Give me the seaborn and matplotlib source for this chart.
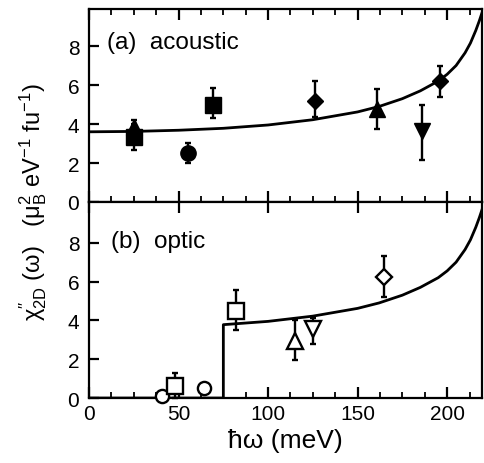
import pandas as pd
import matplotlib
matplotlib.use("Agg")
from matplotlib import pyplot as plt
from matplotlib.ticker import MultipleLocator
import seaborn as sns

# theory curve (same shape in both panels)
curve_x = [0, 25, 50, 75, 100, 125, 150, 162, 175, 185, 195, 200, 205, 210, 213, 216, 218, 220]
curve_y = [3.6, 3.62, 3.68, 3.78, 3.95, 4.22, 4.62, 4.9, 5.3, 5.7, 6.2, 6.55, 7.0, 7.65, 8.15, 8.8, 9.3, 9.85]

# optic curve: zero below the gap, then the same curve
optic_x = [0, 75, 75, 100, 125, 150, 162, 175, 185, 195, 200, 205, 210, 213, 216, 218, 220]
optic_y = [0, 0, 3.78, 3.95, 4.22, 4.62, 4.9, 5.3, 5.7, 6.2, 6.55, 7.0, 7.65, 8.15, 8.8, 9.3, 9.85]

# (a) acoustic, filled symbols
ac_x = [25, 25, 55, 69, 126, 161, 186, 196]
ac_y = [3.35, 3.85, 2.5, 5.0, 5.2, 4.75, 3.65, 6.2]
ac_lo = [2.65, 3.85, 2.0, 4.3, 4.35, 3.75, 2.15, 5.4]
ac_hi = [4.0, 4.2, 3.05, 5.85, 6.2, 5.8, 5.0, 7.0]
ac_mk = ["s", "^", "o", "s", "D", "^", "v", "D"]

# (b) optic, open symbols
op_x = [41, 48, 64, 82, 115, 125, 165]
op_y = [0.08, 0.6, 0.5, 4.5, 2.95, 3.55, 6.25]
op_lo = [0.08, 0.0, 0.5, 3.5, 1.98, 2.76, 5.22]
op_hi = [0.08, 1.3, 0.5, 5.55, 4.0, 4.1, 7.3]
op_mk = ["o", "s", "o", "s", "^", "v", "D"]

sizes = {"s": 11, "o": 11, "^": 11, "v": 11, "D": 8.5}
open_sizes = {"s": 12, "o": 9.5, "^": 12, "v": 11, "D": 8.5}

sns.set_style("ticks")
plt.rcParams["font.family"] = ["Liberation Sans", "DejaVu Sans"]
plt.rcParams["mathtext.fontset"] = "custom"
plt.rcParams["mathtext.rm"] = "Liberation Sans"
plt.rcParams["mathtext.it"] = "Liberation Sans:italic"
for key in ["axes.edgecolor", "text.color", "xtick.color", "ytick.color",
            "axes.labelcolor"]:
    plt.rcParams[key] = "black"

fig = plt.figure(figsize=(4.84, 4.64), dpi=100)
ax_a = fig.add_axes([0.184, 0.5625, 0.812, 0.416])
ax_b = fig.add_axes([0.184, 0.140, 0.812, 0.4225])

df_a = pd.DataFrame({"x": curve_x, "y": curve_y})
df_b = pd.DataFrame({"x": optic_x, "y": optic_y})
sns.lineplot(data=df_a, x="x", y="y", ax=ax_a, color="black", lw=2.0,
             sort=False, estimator=None)
sns.lineplot(data=df_b, x="x", y="y", ax=ax_b, color="black", lw=2.0,
             sort=False, estimator=None)

for x, y, lo, hi, m in zip(ac_x, ac_y, ac_lo, ac_hi, ac_mk):
    ax_a.errorbar([x], [y], yerr=[[y - lo], [hi - y]], fmt=m, color="black",
                  ms=sizes[m], mfc="black", mec="black", elinewidth=1.7,
                  capsize=2.5, capthick=1.7, zorder=3)

for x, y, lo, hi, m in zip(op_x, op_y, op_lo, op_hi, op_mk):
    ax_b.errorbar([x], [y], yerr=[[y - lo], [hi - y]], fmt=m, color="black",
                  ms=open_sizes[m], mfc="white", mec="black", mew=1.7,
                  elinewidth=1.7, capsize=2.5, capthick=1.7, zorder=3,
                  clip_on=False)

for ax, top in [(ax_a, 9.9), (ax_b, 10.1)]:
    ax.set_xlim(0, 219.5)
    ax.set_ylim(0, top)
    ax.set_xlabel("")
    ax.set_ylabel("")
    ax.xaxis.set_major_locator(MultipleLocator(50))
    ax.xaxis.set_minor_locator(MultipleLocator(12.5))
    ax.set_yticks([0, 2, 4, 6, 8])
    for sp in ax.spines.values():
        sp.set_linewidth(1.6)
        sp.set_visible(True)
    ax.tick_params(axis="x", which="major", direction="in", length=8, width=1.6,
                   top=True, bottom=True, labelsize=15, pad=4)
    ax.tick_params(axis="x", which="minor", direction="in", length=4, width=1.3,
                   top=True, bottom=True)
    ax.tick_params(axis="y", which="major", direction="in", length=7, width=1.6,
                   left=True, right=False, labelsize=15, pad=7)

ax_a.tick_params(axis="x", labelbottom=False)
ax_b.tick_params(axis="x", which="minor", top=False)

ax_a.text(0.045, 0.83, "(a)  acoustic", transform=ax_a.transAxes,
          fontsize=17.5, va="center", ha="left")
ax_b.text(0.055, 0.80, "(b)  optic", transform=ax_b.transAxes,
          fontsize=17.5, va="center", ha="left")

ax_b.set_xlabel("ħω (meV)", fontsize=19, labelpad=4)
fig.text(0.068, 0.565,
         r"χ$^{\prime\prime}_{\mathrm{2D}}$ (ω)   (μ$_{\mathrm{B}}^{2}$ eV$^{-1}$ fu$^{-1}$)",
         rotation=90, fontsize=17, ha="center", va="center")

fig.savefig("out.png", dpi=100)
